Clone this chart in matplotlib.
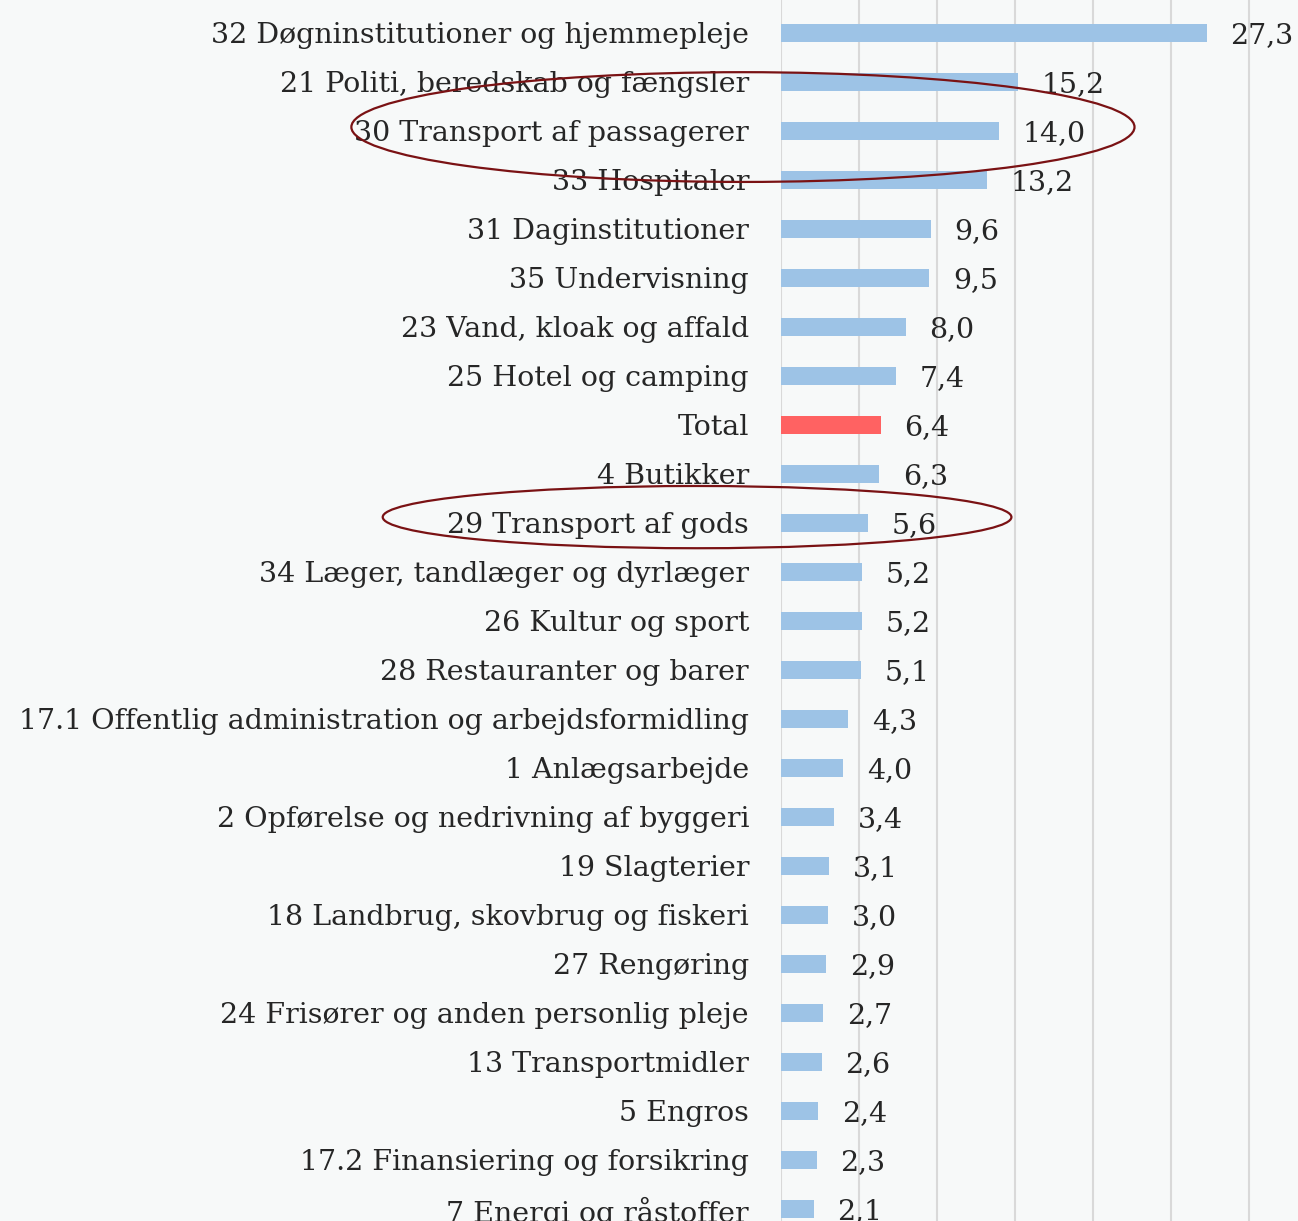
import matplotlib
matplotlib.use("Agg")
import matplotlib.pyplot as plt
from matplotlib.patches import Ellipse

categories = [
    "32 Døgninstitutioner og hjemmepleje",
    "21 Politi, beredskab og fængsler",
    "30 Transport af passagerer",
    "33 Hospitaler",
    "31 Daginstitutioner",
    "35 Undervisning",
    "23 Vand, kloak og affald",
    "25 Hotel og camping",
    "Total",
    "4 Butikker",
    "29 Transport af gods",
    "34 Læger, tandlæger og dyrlæger",
    "26 Kultur og sport",
    "28 Restauranter og barer",
    "17.1 Offentlig administration og arbejdsformidling",
    "1 Anlægsarbejde",
    "2 Opførelse og nedrivning af byggeri",
    "19 Slagterier",
    "18 Landbrug, skovbrug og fiskeri",
    "27 Rengøring",
    "24 Frisører og anden personlig pleje",
    "13 Transportmidler",
    "5 Engros",
    "17.2 Finansiering og forsikring",
    "7 Energi og råstoffer",
]
values = [27.3, 15.2, 14.0, 13.2, 9.6, 9.5, 8.0, 7.4, 6.4, 6.3, 5.6, 5.2, 5.2,
          5.1, 4.3, 4.0, 3.4, 3.1, 3.0, 2.9, 2.7, 2.6, 2.4, 2.3, 2.1]
highlight = "Total"
circled = ["30 Transport af passagerer", "29 Transport af gods"]

bg = "#F7F9F9"
blue = "#9DC3E6"
red = "#FF6262"
txt = "#262626"
ring = "#7A1214"

plt.rcParams['font.family'] = ['DejaVu Serif']
fs = 20.5

fig = plt.figure(figsize=(12.98, 12.21), dpi=100, facecolor=bg)
ax = fig.add_axes([781 / 1298, 0, 1 - 781 / 1298, 1])
ax.set_facecolor(bg)

ypos = list(range(len(categories)))
colors = [red if c == highlight else blue for c in categories]
ax.barh(ypos, values, height=0.35, color=colors, zorder=2)

for y, v in zip(ypos, values):
    ax.annotate(f"{v:.1f}".replace(".", ","), (v, y), xytext=(17, 0),
                textcoords="offset points", va="center_baseline", ha="left",
                fontsize=fs, color=txt, annotation_clip=False)

ax.set_yticks(ypos)
ax.set_yticklabels(categories, fontsize=fs, color=txt, va="center_baseline")
ax.tick_params(axis="y", length=0, pad=23)
ax.set_xticks(range(0, 31, 5))
ax.tick_params(axis="x", length=0, labelbottom=False)
ax.grid(axis="x", color="#D9D9D9", linewidth=1.5, zorder=0)
ax.set_axisbelow(True)
for s in ax.spines.values():
    s.set_visible(False)

ax.set_xlim(0, 33.14)
ax.set_ylim(24.245, -0.673)

# hand-drawn rings around the two transport rows
i1 = categories.index(circled[0])
i2 = categories.index(circled[1])
ax.add_patch(Ellipse((-2.44, i1 - 0.08), 50.2, 2.24, fill=False, edgecolor=ring,
                     linewidth=1.6, clip_on=False, zorder=5))
ax.add_patch(Ellipse((-5.38, i2 - 0.12), 40.3, 1.27, fill=False, edgecolor=ring,
                     linewidth=1.6, clip_on=False, zorder=5))

fig.savefig("out.png", dpi=100, facecolor=bg)
